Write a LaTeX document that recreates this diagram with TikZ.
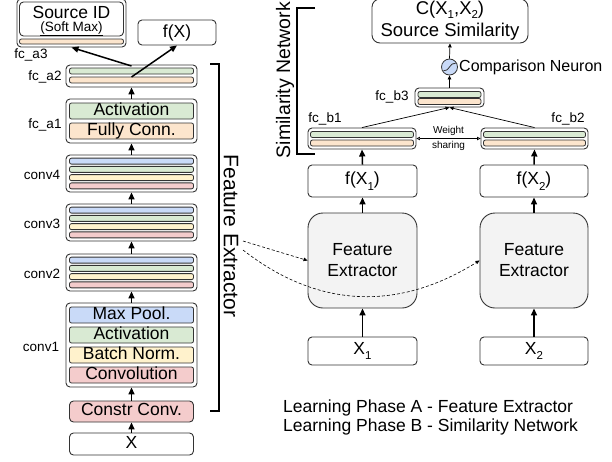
\documentclass[tikz,border=0pt]{standalone}
\usepackage{fontspec}
\setmainfont{Liberation Sans}
\usetikzlibrary{arrows.meta}
\definecolor{cgreen}{HTML}{D9EAD3}
\definecolor{cpeach}{HTML}{FCE5CD}
\definecolor{cblue}{HTML}{C9DAF8}
\definecolor{cyellow}{HTML}{FFF2CC}
\definecolor{cred}{HTML}{F4CCCC}
\definecolor{cgray}{HTML}{F3F3F3}
\definecolor{cline}{HTML}{333333}
\newcommand{\fBig}{\fontsize{17.5}{21}\selectfont}
\newcommand{\fHuge}{\fontsize{21}{24}\selectfont}
\newcommand{\fLab}{\fontsize{13.5}{15}\selectfont}
\newcommand{\fTiny}{\fontsize{10}{12}\selectfont}
\newcommand{\fMid}{\fontsize{16}{19}\selectfont}
\newcommand{\lowsub}[1]{\raisebox{-0.32em}{\fontsize{11.5}{11.5}\selectfont #1}}
\newcommand{\midsub}[1]{\raisebox{-0.18em}{\fontsize{11.5}{11.5}\selectfont #1}}
\begin{document}
\begin{tikzpicture}[x=1pt,y=-1pt,
  outer/.style={draw=cline, line width=0.9pt, rounded corners=4pt, inner sep=0pt, fill=white},
  bar/.style={draw=cline, line width=0.8pt, rounded corners=2pt, inner sep=0pt, minimum width=124pt},
  sbar/.style={bar, minimum height=6pt},
  tbar/.style={bar, minimum height=16pt, text height=11.5pt, text depth=3pt, font=\fBig},
  rbox/.style={draw=cline, line width=0.9pt, rounded corners=4pt, inner sep=0pt, font=\fBig},
  lab/.style={font=\fLab, inner sep=0pt},
  bigarrow/.style={draw=black, line width=1.5pt, -{Triangle[length=7pt,width=6pt]}},
  thinarrow/.style={draw=black, line width=0.7pt, -{Triangle[length=4pt,width=3.5pt]}},
  wsarrow/.style={draw=black, line width=0.7pt, {Triangle[open,length=3.5pt,width=3.5pt]}-{Triangle[open,length=3.5pt,width=3.5pt]}},
  dasharrow/.style={draw=black, line width=0.6pt, dash pattern=on 3pt off 2pt, -{Triangle[length=4pt,width=3.5pt]}},
  bracket/.style={draw=black, line width=1.8pt}
]
\useasboundingbox (0,0) rectangle (612,461);

% ---------------- left column ----------------
% Source ID
\node[outer, minimum width=109pt, minimum height=48pt] (srcout) at (71.5,23) {};
\node[outer, minimum width=104pt, minimum height=34pt] (srcin) at (71.5,19) {};
\node[sbar, minimum width=104pt, minimum height=5pt, fill=cpeach] (srcbar) at (71.5,41.5) {};
\node[font=\fBig, inner sep=0pt] (srctxt) at (71.5,12) {Source ID};
\node[font=\fLab, inner sep=0pt] (srcsm) at (71.5,29) {\underline{(Soft Max)}};
\node[rbox, minimum width=78pt, minimum height=25pt] (fX) at (177,32.5) {f(X)};
\node[lab] (lfca3) at (31,55) {fc\_a3};

% fc_a2
\node[outer, minimum width=131pt, minimum height=22pt] (fca2) at (131.5,76) {};
\node[sbar, fill=cgreen] (fca2g) at (131.5,71) {};
\node[sbar, fill=cpeach] (fca2p) at (131.5,80) {};
\node[lab] (lfca2) at (45,77) {fc\_a2};

% fc_a1
\node[outer, minimum width=131pt, minimum height=44pt] (fca1) at (131.5,121) {};
\node[tbar, fill=cgreen] (fca1a) at (131.5,111) {Activation};
\node[tbar, fill=cpeach] (fca1f) at (131.5,131) {Fully Conn.};
\node[lab] (lfca1) at (45,125) {fc\_a1};

% conv4..conv2
\foreach \nm/\cy in {conv4/173.5, conv3/222.5, conv2/272.5}{
  \node[outer, minimum width=131pt, minimum height=37pt] (\nm) at (131.5,\cy) {};
  \node[sbar, fill=cblue] (\nm b) at (131.5,\cy-12.375) {};
  \node[sbar, fill=cgreen] (\nm g) at (131.5,\cy-4.125) {};
  \node[sbar, fill=cyellow] (\nm y) at (131.5,\cy+4.125) {};
  \node[sbar, fill=cred] (\nm r) at (131.5,\cy+12.375) {};
  \node[lab] (l\nm) at (42,\cy+1.5) {\nm};
}

% conv1
\node[outer, minimum width=131pt, minimum height=84pt] (conv1) at (131.5,345) {};
\node[tbar, fill=cblue] (c1mp) at (131.5,315) {Max Pool.};
\node[tbar, fill=cgreen] (c1ac) at (131.5,335) {Activation};
\node[tbar, fill=cyellow] (c1bn) at (131.5,355) {Batch Norm.};
\node[tbar, fill=cred] (c1cv) at (131.5,375) {Convolution};
\node[lab] (lconv1) at (41,347) {conv1};

\node[rbox, minimum width=124pt, minimum height=21pt, fill=cred, text height=11.5pt, text depth=3pt] (constr) at (131.5,411.5) {Constr Conv.};
\node[rbox, minimum width=124pt, minimum height=22pt, text height=11.5pt, text depth=3pt] (X) at (131.5,444) {X};

\draw[bigarrow] (X.north) -- (constr.south);
\draw[bigarrow] (constr.north) -- (conv1.south);
\draw[bigarrow] (conv1.north) -- (conv2.south);
\draw[bigarrow] (conv2.north) -- (conv3.south);
\draw[bigarrow] (conv3.north) -- (conv4.south);
\draw[bigarrow] (conv4.north) -- (fca1.south);
\draw[bigarrow] (fca1.north) -- (fca2.south);
\coordinate (a2top) at (131.5,66);
\coordinate (a2mid) at (131.5,77);
\draw[bigarrow] (a2top) -- (srcout.south);
\draw[bigarrow] (a2mid) -- (fX.south);

% Feature Extractor bracket
\coordinate (fb1) at (210,64);
\coordinate (fb2) at (219,64);
\coordinate (fb3) at (219,411);
\coordinate (fb4) at (210,411);
\draw[bracket] (fb1) -- (fb2) -- (fb3) -- (fb4);
\node[font=\fHuge, rotate=-90, inner sep=0pt] (fetxt) at (231,236) {Feature Extractor};

% ---------------- right side ----------------
\node[draw=cline, line width=0.9pt, rounded corners=8pt, minimum width=156pt, minimum height=44pt,
      align=center, font=\fontsize{18.5}{22}\selectfont, inner sep=0pt] (C) at (450,21)
      {C(X\midsub{1},X\midsub{2})\\Source Similarity};
\node[circle, draw=cline, line width=0.8pt, fill=cblue, minimum size=16pt, inner sep=0pt] (neuron) at (449.5,67) {};
\draw[line width=0.8pt, cline] (443.5,70.5) .. controls (450.5,71) and (448.5,63) .. (455.5,63.5);
\node[font=\fMid, anchor=west, inner sep=0pt] (cn) at (459,67) {Comparison Neuron};

\node[outer, minimum width=69pt, minimum height=19pt] (fcb3) at (449.5,97.5) {};
\node[sbar, minimum width=63pt, fill=cgreen] (fcb3g) at (449.5,94.5) {};
\node[sbar, minimum width=63pt, fill=cpeach] (fcb3p) at (449.5,101.5) {};
\node[lab] (lfcb3) at (392,97) {fc\_b3};

\node[outer, minimum width=108pt, minimum height=21pt] (fcb1) at (362,138.5) {};
\node[sbar, minimum width=103pt, fill=cgreen] (fcb1g) at (362,134.5) {};
\node[sbar, minimum width=103pt, fill=cpeach] (fcb1p) at (362,143) {};
\node[lab] (lfcb1) at (325,119) {fc\_b1};

\node[outer, minimum width=107pt, minimum height=21pt] (fcb2) at (534.5,138.5) {};
\node[sbar, minimum width=102pt, fill=cgreen] (fcb2g) at (534.5,134.5) {};
\node[sbar, minimum width=102pt, fill=cpeach] (fcb2p) at (534.5,143) {};
\node[lab] (lfcb2) at (568,119) {fc\_b2};

\node[font=\fTiny, inner sep=0pt] (wt) at (448.5,131) {Weight};
\node[font=\fTiny, inner sep=0pt] (sh) at (448.5,146) {sharing};
\draw[wsarrow] (fcb1.east) -- (fcb2.west);

\draw[thinarrow] (fcb1.north) -- (fcb3.south);
\draw[thinarrow] (fcb2.north) -- (fcb3.south);
\draw[thinarrow] (fcb3.north) -- (neuron.south);
\draw[thinarrow] (neuron.north) -- (C.south);

\node[rbox, minimum width=109pt, minimum height=32pt] (fX1) at (362.5,181) {f(X\lowsub{1})};
\node[rbox, minimum width=108pt, minimum height=32pt] (fX2) at (534,181) {f(X\lowsub{2})};
\node[draw=cline, line width=0.9pt, rounded corners=15pt, fill=cgray, minimum width=109pt, minimum height=95pt,
      align=center, font=\fBig, inner sep=0pt] (FE1) at (362.5,260.5) {Feature\\Extractor};
\node[draw=cline, line width=0.9pt, rounded corners=15pt, fill=cgray, minimum width=108pt, minimum height=95pt,
      align=center, font=\fBig, inner sep=0pt] (FE2) at (534,260.5) {Feature\\Extractor};
\node[rbox, minimum width=109pt, minimum height=28pt] (X1) at (362.5,351) {X\lowsub{1}};
\node[rbox, minimum width=108pt, minimum height=28pt] (X2) at (534,351) {X\lowsub{2}};

\draw[bigarrow] (X1.north) -- (FE1.south);
\draw[bigarrow] (FE1.north) -- (fX1.south);
\draw[bigarrow] (fX1.north) -- (fcb1.south);
\draw[bigarrow] (X2.north) -- (FE2.south);
\draw[bigarrow] (FE2.north) -- (fX2.south);
\draw[bigarrow] (fX2.north) -- (fcb2.south);

% Similarity Network bracket
\coordinate (sb1) at (315,8);
\coordinate (sb2) at (297,8);
\coordinate (sb3) at (297,154);
\coordinate (sb4) at (315,154);
\draw[bracket] (sb1) -- (sb2) -- (sb3) -- (sb4);
\node[font=\fontsize{19.5}{22}\selectfont, rotate=90, inner sep=0pt] (sntxt) at (285,80) {Similarity Network};

% dashed arrows
\coordinate (d1) at (243,241);
\coordinate (d2) at (243,250);
\draw[dasharrow] (d1) -- (FE1.west);
\draw[dasharrow] (d2) .. controls (320,310) and (400,310) .. (FE2.west);

% legend
\node[font=\fBig, anchor=base west, inner sep=0pt] (lpa) at (283,412.5) {Learning Phase A - Feature Extractor};
\node[font=\fBig, anchor=base west, inner sep=0pt] (lpb) at (283,431.5) {Learning Phase B - Similarity Network};
\end{tikzpicture}
\end{document}
